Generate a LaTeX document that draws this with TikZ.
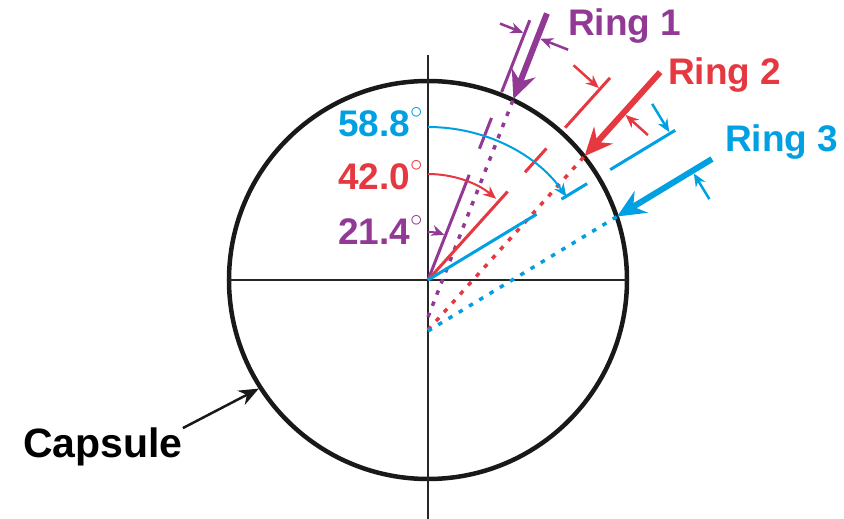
\documentclass[tikz,border=0pt]{standalone}
\usepackage{fontspec}
\setmainfont{Liberation Sans}
\usetikzlibrary{arrows.meta,calc}
\definecolor{ringPurple}{RGB}{146,57,150}
\definecolor{ringRed}{RGB}{229,56,64}
\definecolor{ringBlue}{RGB}{0,160,226}
\newcommand{\degmark}{\raisebox{9pt}{$^{\circ}$}}
\tikzset{
  shell/.style={line width=4.5pt, draw=black!90},
  axisline/.style={line width=2pt, draw=black!85},
  ringline/.style={line width=3pt},
  track/.style={line width=3.5pt, dash pattern=on 4.5pt off 7.5pt},
  beam/.style={line width=6pt, -{Stealth[length=28pt,width=25pt]}},
  gauge/.style={line width=2.5pt, -{Stealth[length=13pt,width=11pt]}},
  sweep/.style={line width=2pt, -{Stealth[length=13pt,width=11pt]}},
  pointer/.style={line width=2.5pt, draw=black!90, -{Stealth[length=20pt,width=16pt]}},
  tag/.style={font=\bfseries\fontsize{37}{40}\selectfont, inner sep=0pt}
}
\begin{document}
\begin{tikzpicture}[x=1pt, y=1pt]
  \useasboundingbox (-428,-239) rectangle (416,280);
  \coordinate (O) at (0,0);
  % capsule and axes
  \coordinate (west) at (180:199);
  \coordinate (east) at (0:199);
  \coordinate (up) at (0,225);
  \coordinate (down) at (0,-239);
  \draw[shell] (O) circle (199);
  \draw[axisline] (west) -- (east);
  \draw[axisline] (up) -- (down);

  % ring 1
  \coordinate (r1in) at (68.6:113);
  \coordinate (r1a) at (68.6:141);
  \coordinate (r1b) at (68.6:174);
  \coordinate (r1c) at (68.6:202);
  \coordinate (r1d) at (68.6:279);
  \coordinate (r1s) at (0,-37);
  \coordinate (r1hit) at ($(r1s)+(68.6:234)$);
  \coordinate (r1top) at ($(r1s)+(68.6:326)$);
  \coordinate (r1g1) at ($(68.6:265)+(158.6:1.5)$);
  \coordinate (r1t1) at ($(r1g1)+(158.6:25)$);
  \coordinate (r1g2) at ($(r1s)+(68.6:300)+(-21.4:3)$);
  \coordinate (r1t2) at ($(r1g2)+(-21.4:30)$);
  \coordinate (r1arc) at (90:48);
  \draw[ringline, ringPurple] (O) -- (r1in) (r1a) -- (r1b) (r1c) -- (r1d);
  \draw[track, ringPurple] (r1s) -- (r1hit);
  \draw[beam, ringPurple] (r1top) -- (r1hit);
  \draw[gauge, ringPurple] (r1t1) -- (r1g1);
  \draw[gauge, ringPurple] (r1t2) -- (r1g2);
  \draw[sweep, ringPurple] (r1arc) arc[start angle=90, end angle=70, radius=48];

  % ring 2
  \coordinate (r2in) at (48:119);
  \coordinate (r2a) at (48:145);
  \coordinate (r2b) at (48:177);
  \coordinate (r2c) at (48:205);
  \coordinate (r2d) at (48:272);
  \coordinate (r2s) at (0,-50);
  \coordinate (r2hit) at ($(r2s)+(48:234)$);
  \coordinate (r2top) at ($(r2s)+(48:347)$);
  \coordinate (r2g1) at ($(48:257)+(138:1.5)$);
  \coordinate (r2t1) at ($(r2g1)+(138:34)$);
  \coordinate (r2g2) at ($(r2s)+(48:292)+(-42:3)$);
  \coordinate (r2t2) at ($(r2g2)+(-42:30)$);
  \coordinate (r2arc) at (90:106);
  \draw[ringline, ringRed] (O) -- (r2in) (r2a) -- (r2b) (r2c) -- (r2d);
  \draw[track, ringRed] (r2s) -- (r2hit);
  \draw[beam, ringRed] (r2top) -- (r2hit);
  \draw[gauge, ringRed] (r2t1) -- (r2g1);
  \draw[gauge, ringRed] (r2t2) -- (r2g2);
  \draw[sweep, ringRed] (r2arc) arc[start angle=90, end angle=50, radius=106];

  % ring 3
  \coordinate (r3in) at (31.2:127);
  \coordinate (r3a) at (31.2:156);
  \coordinate (r3b) at (31.2:186);
  \coordinate (r3c) at (31.2:213);
  \coordinate (r3d) at (31.2:289);
  \coordinate (r3s) at (0,-51);
  \coordinate (r3hit) at ($(r3s)+(31.2:221)$);
  \coordinate (r3top) at ($(r3s)+(31.2:332)$);
  \coordinate (r3g1) at ($(31.2:283)+(121.2:1.5)$);
  \coordinate (r3t1) at ($(r3g1)+(121.2:33)$);
  \coordinate (r3g2) at ($(r3s)+(31.2:309)+(-58.8:3)$);
  \coordinate (r3t2) at ($(r3g2)+(-58.8:30)$);
  \coordinate (r3arc) at (90:153);
  \draw[ringline, ringBlue] (O) -- (r3in) (r3a) -- (r3b) (r3c) -- (r3d);
  \draw[track, ringBlue] (r3s) -- (r3hit);
  \draw[beam, ringBlue] (r3top) -- (r3hit);
  \draw[gauge, ringBlue] (r3t1) -- (r3g1);
  \draw[gauge, ringBlue] (r3t2) -- (r3g2);
  \draw[sweep, ringBlue] (r3arc) arc[start angle=90, end angle=33, x radius=165, y radius=153];

  % labels
  \node[tag, ringBlue, anchor=base west] (ang3) at (-90,143) {58.8\degmark};
  \node[tag, ringRed, anchor=base west] (ang2) at (-90,90) {42.0\degmark};
  \node[tag, ringPurple, anchor=base west] (ang1) at (-90,35) {21.4\degmark};
  \node[tag, ringPurple, anchor=base west] (ring1) at (140,244) {Ring 1};
  \node[tag, ringRed, anchor=base west] (ring2) at (240,195) {Ring 2};
  \node[tag, ringBlue, anchor=base west] (ring3) at (297,128) {Ring 3};
  \node[tag, font=\bfseries\fontsize{41}{44}\selectfont, anchor=base west] (capsule) at (-405,-178) {Capsule};
  \coordinate (shellpt) at (212.7:201);
  \draw[pointer] (capsule.north east) -- (shellpt);
\end{tikzpicture}
\end{document}
